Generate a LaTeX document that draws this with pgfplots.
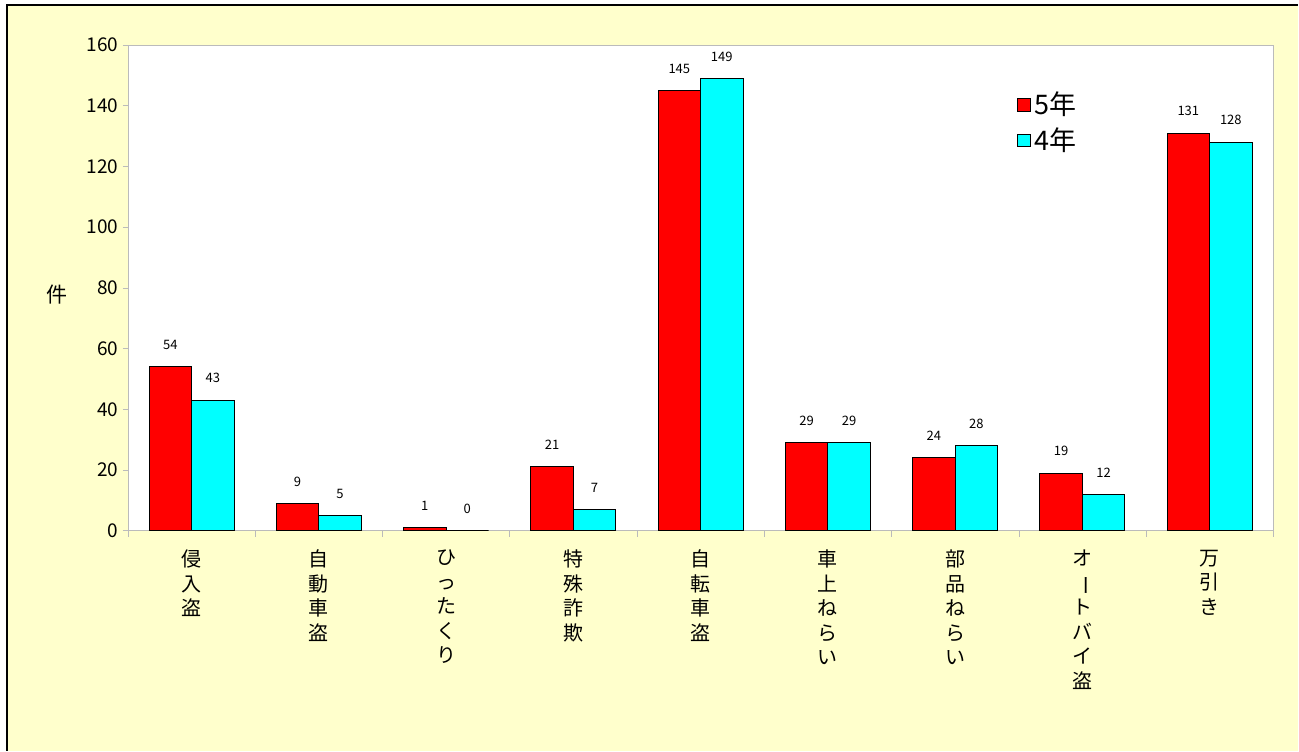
\documentclass[border=0pt]{standalone}
\usepackage{fontspec}
\setmainfont{Noto Sans CJK JP}
\usepackage{pgfplots}
\pgfplotsset{compat=1.18}
\definecolor{bgyellow}{HTML}{FFFFCC}
\definecolor{axisgray}{HTML}{BBBBBB}
\definecolor{barred}{HTML}{FF0000}
\definecolor{barcyan}{HTML}{00FFFF}
\begin{document}
\begin{tikzpicture}
\fill[white] (0pt,0pt) rectangle (649.5pt,375.5pt);
\fill[bgyellow] (3.5pt,0pt) rectangle (649.5pt,373pt);
\draw[black, line width=0.8pt] (3.5pt,0pt) -- (3.5pt,373pt) -- (649.5pt,373pt);
\begin{axis}[
  at={(64pt,110pt)}, anchor=south west,
  scale only axis, clip=false,
  width=573pt, height=243pt,
  /pgf/number format/assume math mode=true,
  ybar=0pt, bar width=21.25pt,
  xmin=-0.5, xmax=8.5, ymin=0, ymax=160,
  enlarge x limits=false,
  axis background/.style={fill=white},
  axis line style={axisgray},
  ytick={0,20,...,160},
  xtick={0,...,8},
  minor xtick={-0.5,0.5,...,8.5},
  tick align=outside,
  major tick length=2.5pt,
  minor tick length=3pt,
  major x tick style={draw=none},
  minor x tick style={axisgray},
  major y tick style={axisgray},
  xtick pos=bottom, ytick pos=left,
  yticklabel style={font=\fontsize{9.5}{10}\selectfont, inner sep=2pt},
  xticklabel style={font=\fontsize{10}{12.3}\selectfont, align=center, anchor=north, yshift=-3.5pt},
  xticklabels={{侵\\入\\盗},{自\\動\\車\\盗},{ひ\\っ\\た\\く\\り},{特\\殊\\詐\\欺},{自\\転\\車\\盗},{車\\上\\ね\\ら\\い},{部\\品\\ね\\ら\\い},{オ\\\rotatebox[origin=c]{-90}{ー}\\ト\\バ\\イ\\盗},{万\\引\\き}},
  nodes near coords,
  nodes near coords style={font=\fontsize{6.5}{7}\selectfont, anchor=south, yshift=5pt},
  legend style={at={(rel axis cs:0.776,0.912)}, anchor=north west, draw=none, fill=none,
    font=\fontsize{13.5}{15}\selectfont, row sep=0.8pt, inner sep=0pt,
    /tikz/every even column/.append style={column sep=0pt}},
  legend cell align=left,
  legend image code/.code={\draw[#1, draw=black, line width=0.4pt] (0pt,-3.2pt) rectangle (6.4pt,3.2pt);},
]
\addplot[fill=barred, draw=black, line width=0.5pt] coordinates {(0,54) (1,9) (2,1) (3,21) (4,145) (5,29) (6,24) (7,19) (8,131)};
\addplot[fill=barcyan, draw=black, line width=0.5pt] coordinates {(0,43) (1,5) (2,0) (3,7) (4,149) (5,29) (6,28) (7,12) (8,128)};
\legend{5年,4年}
\node[font=\fontsize{10.5}{12}\selectfont] at (rel axis cs:-0.062,0.486) {件};
\end{axis}
\end{tikzpicture}
\end{document}
